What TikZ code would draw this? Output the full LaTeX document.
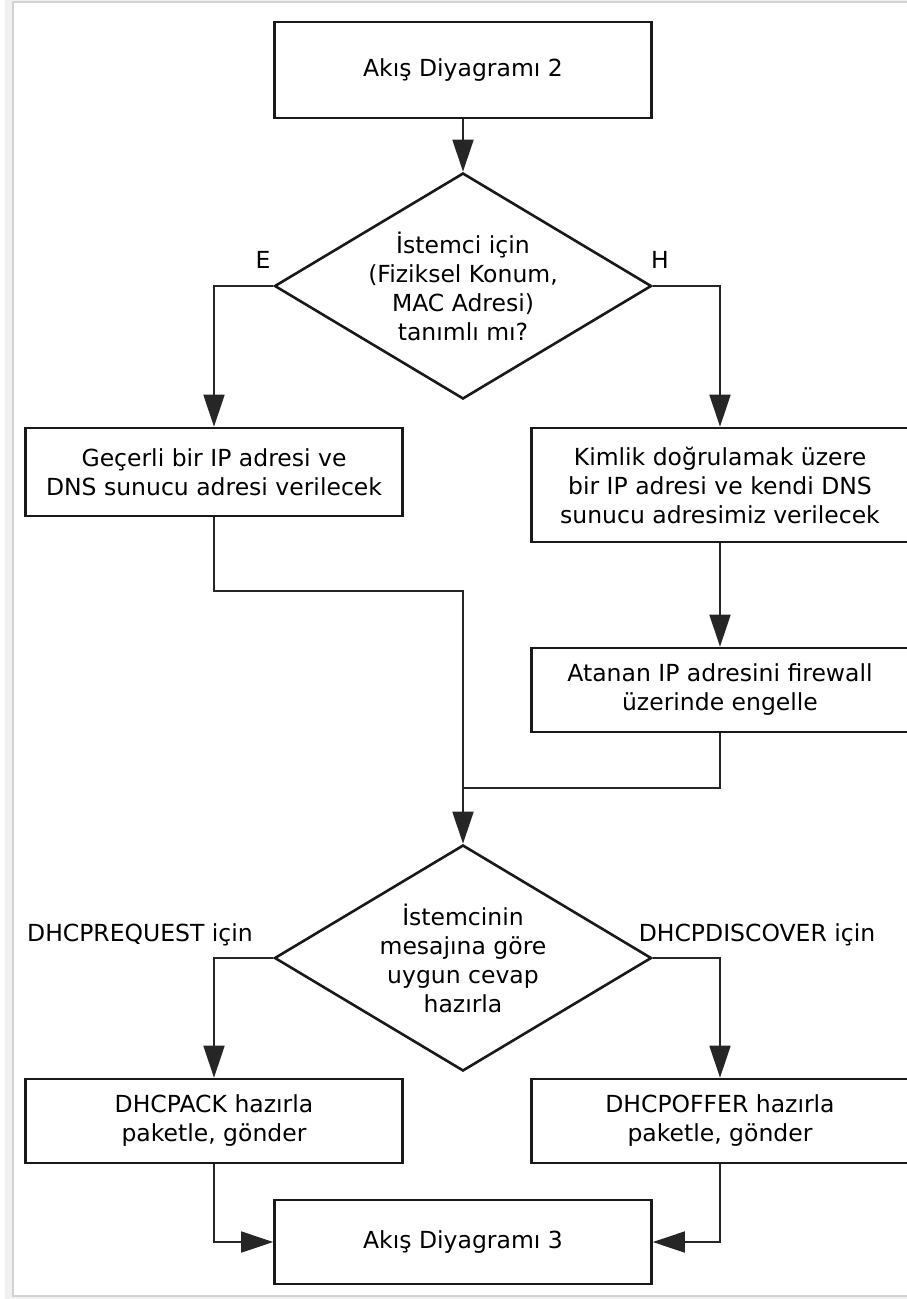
\documentclass[tikz,border=0pt]{standalone}
\usepackage{fontspec}
\setmainfont{DejaVu Sans}
\usetikzlibrary{shapes.geometric, arrows.meta, positioning}

\begin{document}
\begin{tikzpicture}[x=1pt, y=-1pt, >={Triangle[length=32pt,width=21pt]},
    every node/.style={font=\fontsize{23.5}{29}\selectfont, text=black},
    blok/.style={rectangle, draw=black!90, line width=2.6pt, minimum width=377pt, align=center, inner sep=0pt},
    karar/.style={diamond, draw=black!90, line width=2.6pt, aspect=1.67, minimum width=377pt, minimum height=226pt, align=center, inner sep=0pt},
    hat/.style={draw=black!85, line width=1.6pt},
    etiket/.style={inner sep=0pt}]
  \useasboundingbox (0,0) rectangle (907,1299);
  % light frame round the page
  \draw[gray!12, line width=9pt] (9,-4) rectangle (940,1300);
  \draw[gray!35, line width=2.5pt] (13,2) rectangle (930,1296);

  \node[blok, minimum height=96pt] (akis2) at (463,70) {Akış Diyagramı 2};
  \node[karar] (soru1) at (463,286) {İstemci için\\(Fiziksel Konum,\\MAC Adresi)\\tanımlı mı?};
  \node[blok, minimum height=88pt] (gecerli) at (214,472) {Geçerli bir IP adresi ve\\DNS sunucu adresi verilecek};
  \node[blok, minimum height=114pt] (kimlik) at (720,485) {Kimlik doğrulamak üzere\\bir IP adresi ve kendi DNS\\sunucu adresimiz verilecek};
  \node[blok, minimum height=84pt] (engelle) at (720,690) {Atanan IP adresini firewall\\üzerinde engelle};
  \node[karar] (soru2) at (463,958) {İstemcinin\\mesajına göre\\uygun cevap\\hazırla};
  \node[blok, minimum height=84pt] (ack) at (214,1121) {DHCPACK hazırla\\paketle, gönder};
  \node[blok, minimum height=84pt] (offer) at (720,1121) {DHCPOFFER hazırla\\paketle, gönder};
  \node[blok, minimum height=84pt] (akis3) at (463,1242) {Akış Diyagramı 3};

  \node[etiket] (evet) at (263,260) {E};
  \node[etiket] (hayir) at (660,260) {H};
  \node[etiket] (istek) at (140,935) {DHCPREQUEST için};
  \node[etiket] (kesif) at (757,935) {DHCPDISCOVER için};

  \coordinate (birles1) at (463,591);
  \coordinate (birles2) at (463,788);

  \draw[hat,->] (akis2) -- (soru1);
  \draw[hat,->] (soru1.west) -| (gecerli.north);
  \draw[hat,->] (soru1.east) -| (kimlik.north);
  \draw[hat,->] (kimlik) -- (engelle);
  \draw[hat,->] (gecerli.south) |- (birles1) -- (soru2.north);
  \draw[hat] (engelle.south) |- (birles2);
  \draw[hat,->] (soru2.west) -| (ack.north);
  \draw[hat,->] (soru2.east) -| (offer.north);
  \draw[hat,->] (ack.south) |- (akis3.west);
  \draw[hat,->] (offer.south) |- (akis3.east);
\end{tikzpicture}
\end{document}
